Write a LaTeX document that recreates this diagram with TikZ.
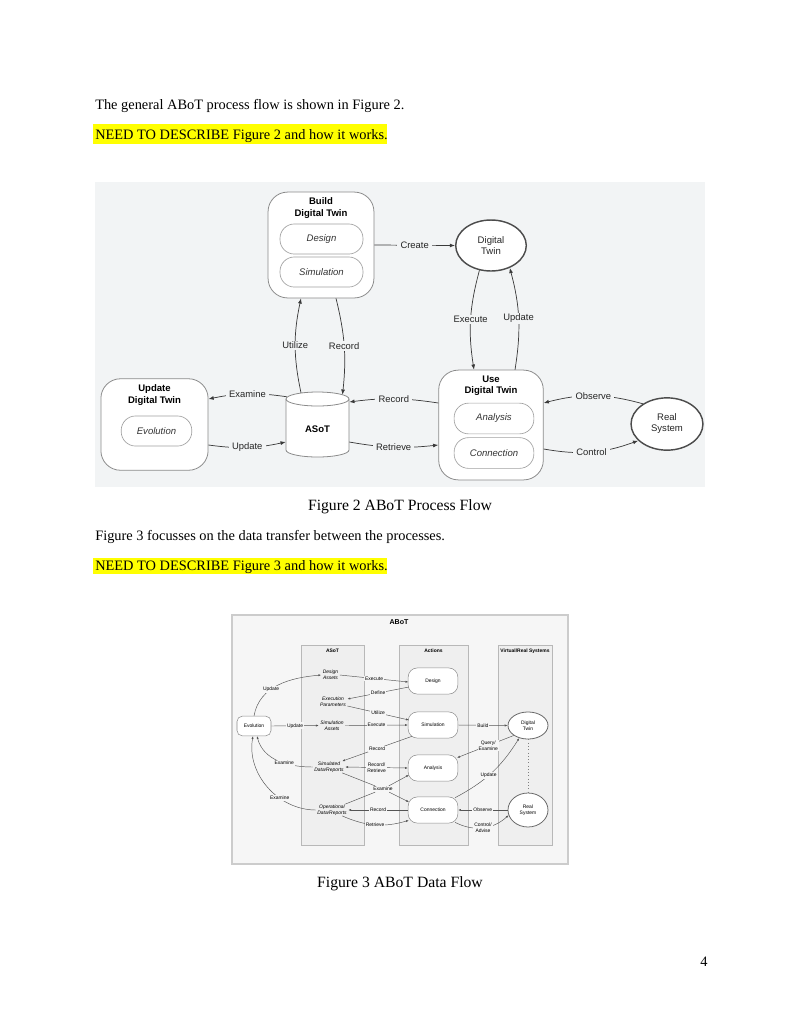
\documentclass[tikz,border=0pt]{standalone}
\usepackage{fontspec}
\setmainfont{Liberation Serif}
\setsansfont{Liberation Sans}
\usetikzlibrary{shapes.geometric,arrows.meta,calc}
\definecolor{bgtwo}{HTML}{F2F4F5}
\definecolor{lntwo}{HTML}{3A3A3A}
\definecolor{boxtwo}{HTML}{8A8A8A}
\definecolor{pilltwoc}{HTML}{A0A0A0}
\definecolor{bgthree}{HTML}{F6F6F6}
\definecolor{colthree}{HTML}{EFEFEF}
\definecolor{bdthree}{HTML}{B8B8B8}
\definecolor{lnthree}{HTML}{555555}
\definecolor{hlyel}{HTML}{FFFF00}
\begin{document}
\begin{tikzpicture}[x=0.765pt,y=0.765pt,
 bodytxt/.style={font=\fontsize{11}{13}\selectfont, anchor=base west, inner sep=0pt},
 captxt/.style={font=\fontsize{12}{14}\selectfont, anchor=base, inner sep=0pt},
 bigbox/.style={draw=boxtwo, fill=white, rounded corners=15pt, line width=0.6pt},
 pilltwo/.style={draw=pilltwoc, fill=white, rounded corners=11pt, line width=0.5pt, font=\sffamily\itshape\fontsize{7.3}{8.5}\selectfont, text=black!80},
 ttl/.style={font=\sffamily\bfseries\fontsize{7.3}{8.6}\selectfont, align=center, inner sep=0pt},
 ovaltwo/.style={ellipse, draw=black!70, line width=1.1pt, fill=white, font=\sffamily\fontsize{7.3}{8.4}\selectfont, align=center, inner sep=0pt, text=black!85},
 labtwo/.style={fill=bgtwo, font=\sffamily\fontsize{7.2}{8.6}\selectfont, inner xsep=2.5pt, inner ysep=1pt, text=black!85},
 conntwo/.style={draw=lntwo, line width=0.55pt, -{Latex[length=4pt,width=3pt]}},
 pillthree/.style={draw=black!45, fill=white, rounded corners=7pt, minimum width=38pt, minimum height=20pt, line width=0.4pt, font=\sffamily\fontsize{3.8}{4.6}\selectfont},
 ovalthree/.style={ellipse, draw=black!60, line width=0.6pt, fill=white, font=\sffamily\fontsize{3.8}{4.6}\selectfont, align=center, inner sep=0pt},
 labthree/.style={fill=bgthree, font=\sffamily\fontsize{3.8}{4.6}\selectfont, inner sep=0.8pt, align=center},
 itthree/.style={font=\sffamily\itshape\fontsize{3.8}{4.6}\selectfont, align=center, inner sep=1pt},
 hdthree/.style={font=\sffamily\bfseries\fontsize{3.8}{4.6}\selectfont, inner sep=0pt},
 connthree/.style={draw=lnthree, line width=0.35pt, -{Latex[length=2.2pt,width=1.6pt]}}
]
\useasboundingbox[fill=white] (0,0) rectangle (800,-1035);

% ---------- body text ----------
\fill[hlyel] (93,-124) rectangle (387,-144);
\fill[hlyel] (93,-558) rectangle (387,-574);
\node[bodytxt] (t1) at (95,-109) {The general ABoT process flow is shown in Figure 2.};
\node[bodytxt] (t2) at (95,-139) {NEED TO DESCRIBE Figure 2 and how it works.};
\node[captxt] (c2) at (400,-510) {Figure 2 ABoT Process Flow};
\node[bodytxt] (t3) at (95,-540) {Figure 3 focusses on the data transfer between the processes.};
\node[bodytxt] (t4) at (95,-570) {NEED TO DESCRIBE Figure 3 and how it works.};
\node[captxt] (c3) at (400,-887) {Figure 3 ABoT Data Flow};
\node[bodytxt] (pg) at (700,-966) {4};

% ---------- Figure 2 ----------
\fill[bgtwo] (95,-182) rectangle (705,-487);

\node[bigbox, minimum width=81pt, minimum height=81pt] (build) at (321,-245) {};
\node[ttl] (buildt) at (321,-208) {Build\\Digital Twin};
\node[pilltwo, minimum width=63.5pt, minimum height=23pt] (design) at (321.5,-239) {Design};
\node[pilltwo, minimum width=63.5pt, minimum height=23pt] (simu) at (321.5,-272) {Simulation};

\node[bigbox, minimum width=82pt, minimum height=70pt] (upd) at (154.5,-424.5) {};
\node[ttl] (updt) at (154.5,-395) {Update\\Digital Twin};
\node[pilltwo, minimum width=54pt, minimum height=23pt] (evo) at (156.5,-431) {Evolution};

\node[bigbox, minimum width=80pt, minimum height=84pt] (use) at (491,-425) {};
\node[ttl] (uset) at (491,-386) {Use\\Digital Twin};
\node[pilltwo, minimum width=61pt, minimum height=23.5pt] (ana) at (494,-418.5) {Analysis};
\node[pilltwo, minimum width=61pt, minimum height=23.5pt] (con) at (494,-453) {Connection};

% ASoT cylinder
\node[minimum width=48.2pt, minimum height=49.7pt, inner sep=0pt] (asot) at (317.5,-424.5) {};
\fill[white] (286,-399) -- (286,-450) arc[start angle=180,end angle=360,x radius=24.1pt,y radius=5.35pt] -- (349,-399) -- cycle;
\draw[boxtwo, line width=0.6pt] (286,-399) -- (286,-450) arc[start angle=180,end angle=360,x radius=24.1pt,y radius=5.35pt] -- (349,-399);
\draw[boxtwo, line width=0.6pt, fill=white] (317.5,-399) ellipse [x radius=24.1pt, y radius=5.35pt];
\node[ttl] (asott) at (317.5,-429) {ASoT};

\node[ovaltwo, minimum width=54pt, minimum height=39pt] (dt) at (491,-245.5) {Digital\\Twin};
\node[ovaltwo, minimum width=55pt, minimum height=40pt] (rs) at (667,-424) {Real\\System};

\draw[conntwo] (build.east) -- node[labtwo]{Create} (dt.west);
\draw[conntwo] (dt.245) to[bend right=12] node[labtwo]{Execute} ($(use.north)+(-17,0)$);
\draw[conntwo] ($(use.north)+(24,0)$) to[bend right=12] node[labtwo]{Update} (dt.-50);
\draw[conntwo] ($(asot.north)+(-16.5,-1)$) to[bend left=12] node[labtwo]{Utilize} ($(build.south)+(-20,0)$);
\draw[conntwo] ($(build.south)+(15,0)$) to[bend left=10] node[labtwo]{Record} ($(asot.north)+(25,-3)$);
\draw[conntwo] ($(asot.north west)+(1,-5)$) to[bend right=10] node[labtwo]{Examine} ($(upd.east)+(0,25.5)$);
\draw[conntwo] ($(upd.east)+(0,-20.5)$) to[bend right=10] node[labtwo]{Update} ($(asot.west)+(0,-17.5)$);
\draw[conntwo] ($(use.west)+(0,22)$) to[bend right=8] node[labtwo]{Record} ($(asot.east)+(0,22.5)$);
\draw[conntwo] ($(asot.east)+(0,-17.5)$) to[bend right=8] node[labtwo]{Retrieve} ($(use.west)+(0,-20)$);
\draw[conntwo] (rs.140) to[bend right=15] node[labtwo]{Observe} ($(use.east)+(0,22)$);
\draw[conntwo] ($(use.east)+(0,-24)$) to[bend right=15] node[labtwo]{Control} (rs.210);

% ---------- Figure 3 ----------
\draw[draw=black!20, fill=bgthree, line width=0.8pt] (232,-615) rectangle (568,-864);
\node[font=\sffamily\bfseries\fontsize{5.4}{6}\selectfont, inner sep=0pt] (abot) at (399,-622) {ABoT};
\draw[draw=bdthree, fill=colthree, line width=0.4pt] (301,-645) rectangle (364,-845);
\draw[draw=bdthree, fill=colthree, line width=0.4pt] (399,-645) rectangle (468,-845);
\draw[draw=bdthree, fill=colthree, line width=0.4pt] (498,-645) rectangle (552,-845);
\node[hdthree] (h1) at (332.5,-651) {ASoT};
\node[hdthree] (h2) at (433.5,-651) {Actions};
\node[hdthree] (h3) at (525,-651) {Virtual/Real Systems};

\node[pillthree] (design3) at (433,-681) {Design};
\node[pillthree] (sim3) at (433,-725) {Simulation};
\node[pillthree] (ana3) at (433,-768) {Analysis};
\node[pillthree] (conn3) at (433,-810) {Connection};
\node[ovalthree, minimum width=30.6pt, minimum height=20.7pt] (dt3) at (528,-725.5) {Digital\\Twin};
\node[ovalthree, minimum width=30.6pt, minimum height=26pt] (rs3) at (528,-810) {Real\\System};
\node[draw=black!45, fill=white, rounded corners=4pt, minimum width=26pt, minimum height=15pt, inner sep=0pt, line width=0.4pt, font=\sffamily\fontsize{3.8}{4.6}\selectfont] (evo3) at (254,-726) {Evolution};

\node[itthree] (da) at (330.5,-675) {Design\\Assets};
\node[itthree] (ep) at (333,-702) {Execution\\Parameters};
\node[itthree] (sa) at (332,-725.5) {Simulation\\Assets};
\node[itthree] (sdr) at (329,-767) {Simulated\\Data/Reports};
\node[itthree] (odr) at (332,-810) {Operational\\Data/Reports};

\draw[dotted, draw=black!50, line width=0.5pt] (dt3.south) -- (rs3.north);

\draw[connthree] (evo3.north) to[out=80,in=185] node[labthree, pos=0.4]{Update} (da.west);
\draw[connthree] (evo3.east) -- node[labthree]{Update} (sa.west);
\draw[connthree] (sdr.west) to[out=180,in=-75] node[labthree, pos=0.4]{Examine} ($(evo3.south)+(3,0)$);
\draw[connthree] (odr.west) to[out=180,in=-100] node[labthree, pos=0.35]{Examine} ($(evo3.south)+(-1,0)$);

\draw[connthree] (da.east) -- node[labthree]{Execute} ($(design3.west)+(0.5,-1)$);
\draw[connthree] ($(design3.west)+(1,-6)$) -- node[labthree]{Define} ($(ep.east)+(0,3)$);
\draw[connthree] ($(ep.east)+(0,-4)$) -- node[labthree]{Utilize} ($(sim3.west)+(1,5)$);
\draw[connthree] (sa.east) -- node[labthree]{Execute} (sim3.west);
\draw[connthree] (sim3.east) -- node[labthree]{Build} (dt3.west);
\draw[connthree] ($(sim3.south west)+(4,2)$) -- node[labthree]{Record} ($(sdr.north east)+(-3,-1)$);
\draw[connthree, {Latex[length=2.2pt,width=1.6pt]}-{Latex[length=2.2pt,width=1.6pt]}] (sdr.east) -- node[labthree]{Record/\\Retrieve} (ana3.west);
\node[labthree] (ex3) at (383,-789) {Examine};
\draw[connthree] ($(sdr.south east)+(-3,1)$) -- (ex3) -- ($(conn3.west)+(1,8)$);
\draw[connthree] ($(odr.north east)+(-3,-1)$) -- (ex3) -- ($(ana3.west)+(1,-7)$);
\draw[connthree] (conn3.west) -- node[labthree]{Record} (odr.east);
\draw[connthree] ($(odr.south east)+(-6,1)$) to[bend right=20] node[labthree]{Retrieve} ($(conn3.south west)+(1,3)$);

\draw[connthree] (dt3.215) -- node[labthree, pos=0.45]{Query/\\Examine} ($(ana3.north east)+(-1,-3)$);
\draw[connthree] ($(conn3.north east)+(-3,-1)$) to[bend right=15] node[labthree, pos=0.45]{Update} (dt3.-125);
\draw[connthree] (rs3.west) -- node[labthree]{Observe} (conn3.east);
\draw[connthree] ($(conn3.south east)+(-3,1)$) to[bend right=35] node[labthree]{Control/\\Advise} (rs3.195);
\end{tikzpicture}
\end{document}
